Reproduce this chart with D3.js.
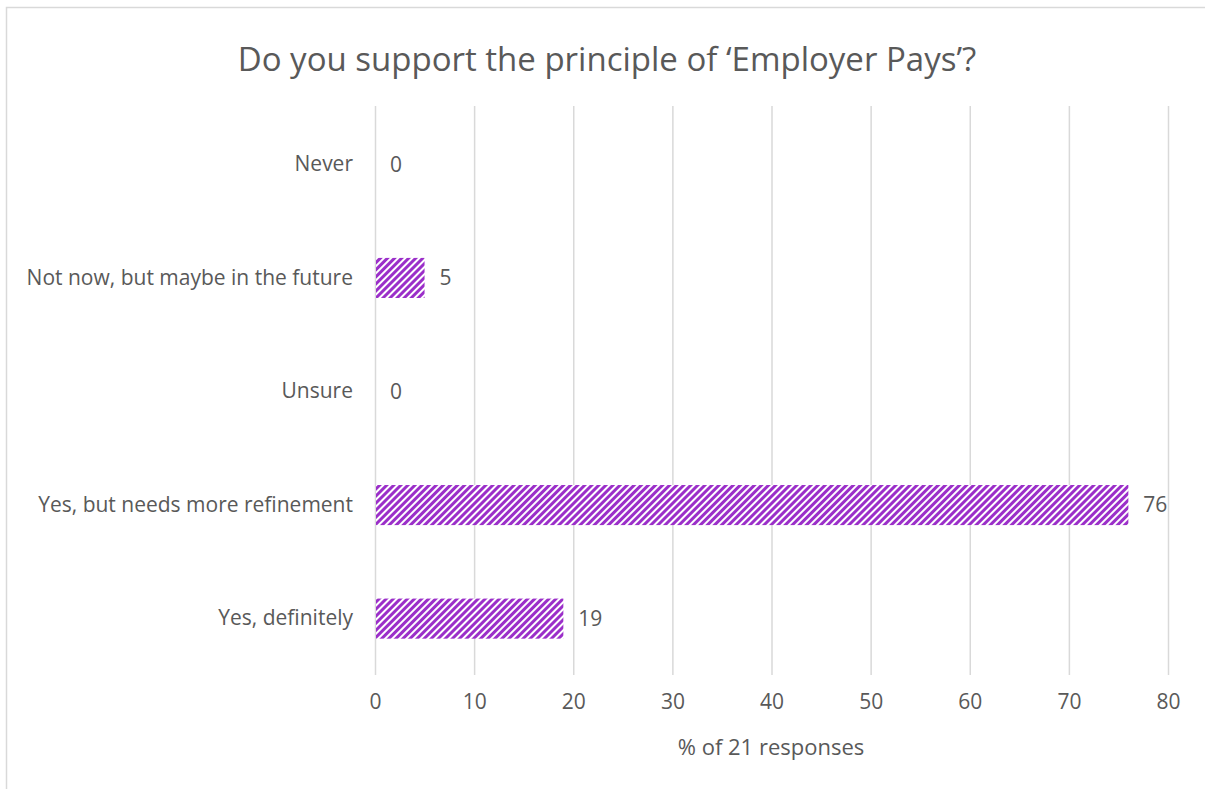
<!DOCTYPE html>
<html>
<head>
<meta charset="utf-8">
<script src="https://cdn.jsdelivr.net/npm/d3@7"></script>
<style>
  body { margin: 0; background: #fff; }
  text { font-family: "Open Sans", sans-serif; fill: #595959; }
</style>
</head>
<body>
<svg id="chart" width="1205" height="789"></svg>
<script>
// answers, top to bottom as drawn
var categories = ["Never", "Not now, but maybe in the future", "Unsure", "Yes, but needs more refinement", "Yes, definitely"];
var values = [0, 5, 0, 76, 19];
var xTicks = [0, 10, 20, 30, 40, 50, 60, 70, 80];

var svg = d3.select("#chart");

// outer chart frame
svg.append("rect")
    .attr("x", 6.5).attr("y", 7.5)
    .attr("width", 1205).attr("height", 800)
    .attr("fill", "none").attr("stroke", "#d9d9d9").attr("stroke-width", 1.5);

// hatch pattern for the bars
var pat = svg.append("defs").append("pattern")
    .attr("id", "hatch")
    .attr("patternUnits", "userSpaceOnUse")
    .attr("width", 5).attr("height", 5)
    .attr("patternTransform", "rotate(45)");
pat.append("rect").attr("width", 5).attr("height", 5).attr("fill", "#fff");
pat.append("rect").attr("width", 3).attr("height", 5).attr("fill", "#9b2fc9");

var x = d3.scaleLinear().domain([0, 80]).range([375, 1168]);
var y = d3.scaleBand().domain(categories).range([108, 675]).paddingInner(0.647).paddingOuter(0.32);

// gridlines
svg.append("g").selectAll("line")
    .data(xTicks)
  .enter().append("line")
    .attr("x1", function(d) { return x(d) + 0.5; })
    .attr("x2", function(d) { return x(d) + 0.5; })
    .attr("y1", 106).attr("y2", 675)
    .attr("stroke", "#d9d9d9").attr("stroke-width", 1.5);

// bars
svg.append("g").selectAll("rect")
    .data(categories)
  .enter().append("rect")
    .attr("x", x(0) + 1)
    .attr("y", function(d) { return y(d); })
    .attr("width", function(d, i) { return Math.max(0, x(values[i]) - x(0) - 1); })
    .attr("height", y.bandwidth())
    .attr("fill", "url(#hatch)");

// value labels
svg.append("g").selectAll("text")
    .data(categories)
  .enter().append("text")
    .attr("x", function(d, i) { return x(values[i]) + 15; })
    .attr("y", function(d) { return y(d) + y.bandwidth() / 2; })
    .attr("dy", "0.35em")
    .style("font-size", "21px")
    .text(function(d, i) { return values[i]; });

// category axis
var yAxis = svg.append("g")
    .attr("transform", "translate(375,0)")
    .call(d3.axisLeft(y).tickSize(0).tickPadding(22));
yAxis.select(".domain").remove();
yAxis.selectAll("text").style("font-size", "21px").style("font-family", "'Open Sans', sans-serif").attr("fill", "#595959");

// value axis
var xAxis = svg.append("g")
    .attr("transform", "translate(0,675)")
    .call(d3.axisBottom(x).tickValues(xTicks).tickSize(0).tickPadding(19));
xAxis.select(".domain").remove();
xAxis.selectAll("text").style("font-size", "21px").style("font-family", "'Open Sans', sans-serif").attr("fill", "#595959");

svg.append("text")
    .attr("x", 771).attr("y", 755)
    .attr("text-anchor", "middle")
    .style("font-size", "22px")
    .text("% of 21 responses");

svg.append("text")
    .attr("x", 607).attr("y", 71)
    .attr("text-anchor", "middle")
    .style("font-size", "33px")
    .text("Do you support the principle of \u2018Employer Pays\u2019?");
</script>
</body>
</html>
